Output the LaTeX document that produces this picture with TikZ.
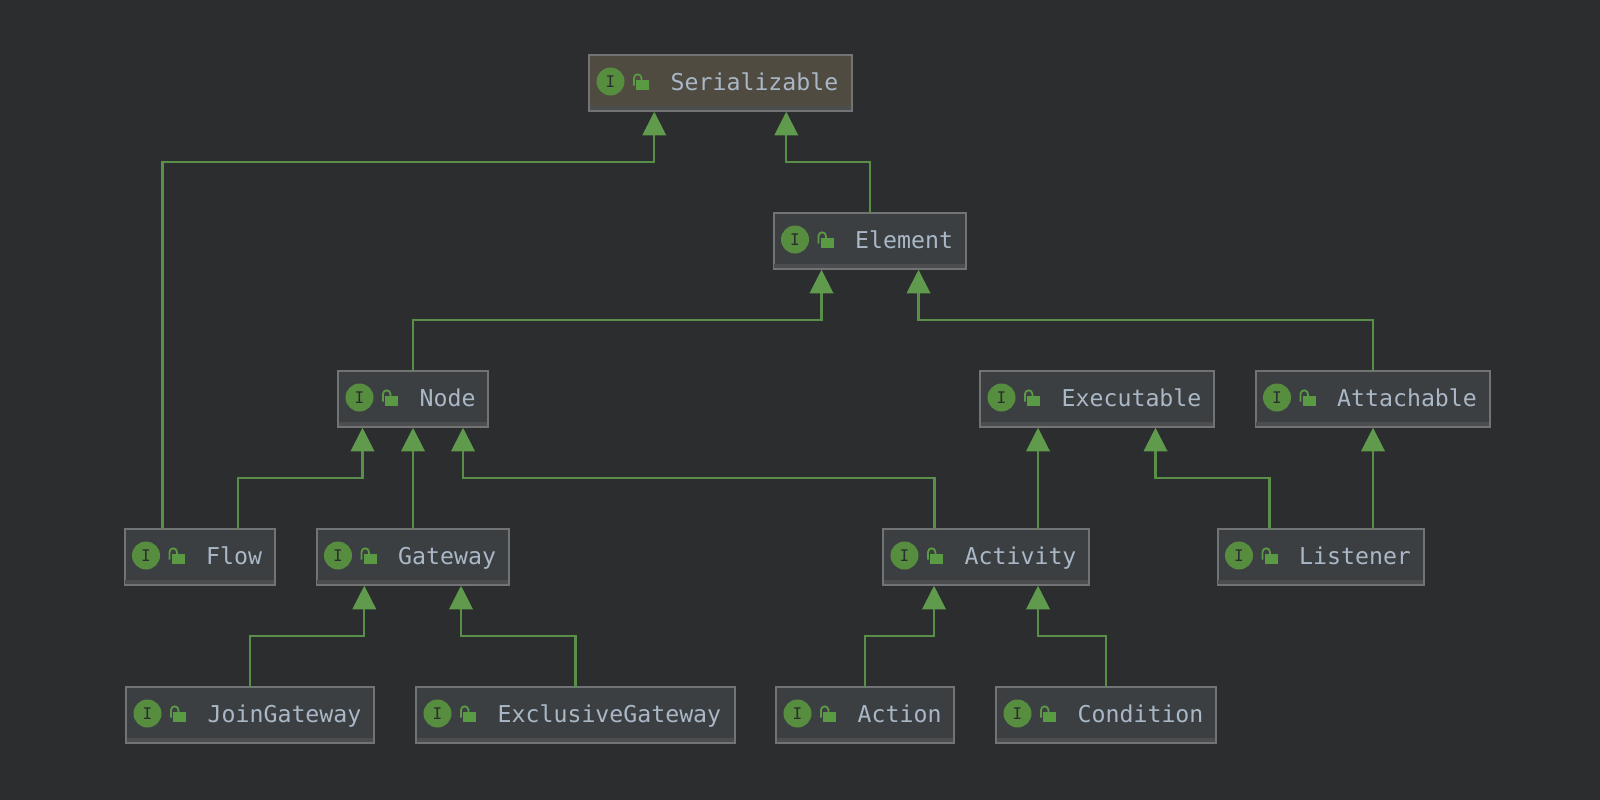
\documentclass[tikz,border=0pt]{standalone}
\usepackage{fontspec}
\setmonofont{DejaVu Sans Mono}
\usetikzlibrary{arrows.meta}
\definecolor{bgc}{HTML}{2B2D2E}
\definecolor{boxc}{HTML}{3C3F41}
\definecolor{serc}{HTML}{4F4B41}
\definecolor{edgec}{HTML}{727374}
\definecolor{stripc}{HTML}{4C4D4E}
\definecolor{textc}{HTML}{A9B7C6}
\definecolor{iconc}{HTML}{568D3F}
\definecolor{lockc}{HTML}{5A9A45}
\definecolor{linec}{HTML}{5A8F4A}
\definecolor{tipc}{HTML}{5F9A4D}
\tikzset{
  classbox/.style={draw=edgec,line width=2pt,inner sep=0pt,outer sep=0pt},
  classname/.style={anchor=base west,inner sep=0pt,outer sep=0pt,text=textc,font=\fontsize{23.2pt}{26pt}\selectfont\ttfamily},
  badge/.style={circle,fill=iconc,minimum size=28pt,inner sep=0pt,text=bgc,font=\fontsize{16pt}{17pt}\selectfont\ttfamily},
  inh/.style={draw=linec,line width=2.1pt,-{Triangle[width=23.5pt,length=23.5pt,color=tipc]}},
}
% name, left, top, right, text, fill
\newcommand{\cls}[6]{%
  \node[classbox,fill=#6,minimum width={(#4-#2-0.5)*1pt},minimum height=55.5pt] (#1) at ({(#2+#4)/2-0.25},{#3+28.5}) {};
  \begin{scope}[shift={(#2,#3)}]
    \fill[stripc] (0.75,51.5) rectangle ({#4-#2-1.25},55.5);
    \node[badge] (#1-badge) at (21.5,27) {I};
    \fill[lockc] (47,25.5) rectangle (60,35.5);
    \draw[lockc,line width=1.8pt] (45,31) -- (45,23.5) arc (180:360:3.7) -- (52.4,26);
    \node[classname] (#1-name) at (81.7,35.5) {#5};
  \end{scope}}
% child, shift at child, parent, shift at parent
\newcommand{\bent}[4]{\draw[inh] ([xshift=#2pt]#1.north) -- ++(0,-50.9) -| ([xshift=#4pt,yshift=-1pt]#3.south);}
\newcommand{\straight}[4]{\draw[inh] ([xshift=#2pt]#1.north) -- ([xshift=#4pt,yshift=-1pt]#3.south);}
\begin{document}
\begin{tikzpicture}[x=1pt,y=-1pt]
\useasboundingbox (0,0) rectangle (1600,800);
\fill[bgc] (0,0) rectangle (1600,800);
\cls{serial}{589}{54.5}{852}{Serializable}{serc}
\cls{element}{773.5}{212.5}{966}{Element}{boxc}
\cls{nodeb}{338}{370.5}{488}{Node}{boxc}
\cls{exec}{980}{370.5}{1214}{Executable}{boxc}
\cls{attach}{1255.5}{370.5}{1490}{Attachable}{boxc}
\cls{flow}{124.5}{528.5}{275}{Flow}{boxc}
\cls{gateway}{316.5}{528.5}{509}{Gateway}{boxc}
\cls{activity}{883}{528.5}{1089}{Activity}{boxc}
\cls{listener}{1217.5}{528.5}{1424}{Listener}{boxc}
\cls{join}{126}{686.5}{374.5}{JoinGateway}{boxc}
\cls{excl}{416}{686.5}{735}{ExclusiveGateway}{boxc}
\cls{action}{776}{686.5}{954}{Action}{boxc}
\cls{cond}{996}{686.5}{1216}{Condition}{boxc}
\draw[inh] ([xshift=-37pt]flow.north) -- ++(0,-366.9) -| ([xshift=-66pt,yshift=-1pt]serial.south);
\bent{element}{0.25}{serial}{66}
\bent{nodeb}{0.25}{element}{-48}
\bent{attach}{0.25}{element}{49}
\bent{flow}{38.8}{nodeb}{-50.25}
\straight{gateway}{0.5}{nodeb}{0.25}
\bent{activity}{-51.25}{nodeb}{50.25}
\straight{activity}{52.25}{exec}{-58.75}
\bent{listener}{-51}{exec}{58.75}
\straight{listener}{52.5}{attach}{0.5}
\bent{join}{0.25}{gateway}{-48.2}
\bent{excl}{0.25}{gateway}{48.5}
\bent{action}{0.25}{activity}{-51.75}
\bent{cond}{0.25}{activity}{52.25}
\end{tikzpicture}
\end{document}
